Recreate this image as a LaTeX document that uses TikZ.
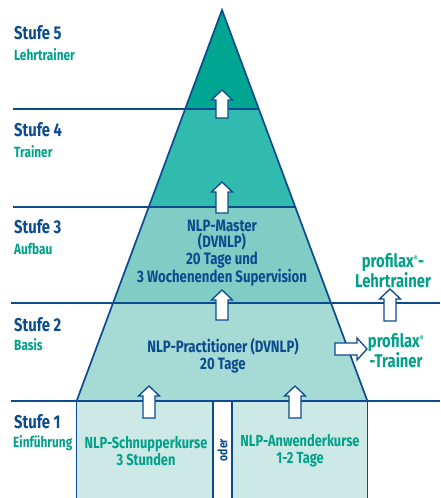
\documentclass[tikz,border=0pt]{standalone}
\usepackage{fontspec}
\setmainfont{Fira Sans}[FakeStretch=0.8,BoldFeatures={FakeStretch=0.8}]
\definecolor{dblue}{HTML}{0B4B8E}
\definecolor{tealtxt}{HTML}{00A08B}
\definecolor{cfive}{HTML}{00A692}
\definecolor{cfour}{HTML}{31BBAE}
\definecolor{cthree}{HTML}{7FCDC5}
\definecolor{ctwo}{HTML}{A6DAD4}
\definecolor{cone}{HTML}{CCE9E5}
\newcommand\blkup[3]{\draw[blk] ({#1-6},#3) -- ({#1-6},{#2+10}) -- ({#1-10.5},{#2+10}) -- (#1,#2) -- ({#1+10.5},{#2+10}) -- ({#1+6},{#2+10}) -- ({#1+6},#3) -- cycle;}
\begin{document}
\begin{tikzpicture}[x=1pt,y=-1pt,
  ln/.style={draw=dblue,line width=1.7pt},
  blk/.style={draw=dblue,fill=white,line width=1.3pt,line join=miter},
  stufe/.style={anchor=west,text=dblue,font=\bfseries\fontsize{18.5}{20}\selectfont,inner sep=0pt},
  sub/.style={anchor=west,text=tealtxt,font=\bfseries\fontsize{14.8}{17}\selectfont,inner sep=0pt},
  mid/.style={align=center,text=dblue,font=\bfseries\fontsize{16.5}{16.6}\selectfont,inner sep=0pt},
  box/.style={align=center,text=tealtxt,font=\bfseries\fontsize{16}{17}\selectfont,inner sep=0pt},
  prof/.style={align=center,text=tealtxt,font=\bfseries\fontsize{18.5}{17.5}\selectfont,inner sep=0pt}]
\useasboundingbox (0,0) rectangle (440,498);
% pyramid corners
\coordinate (apex) at (222,10);
\coordinate (L1) at (185.2,109); \coordinate (R1) at (258.8,109);
\coordinate (L2) at (148.8,207); \coordinate (R2) at (295.2,207);
\coordinate (L3) at (113.1,303); \coordinate (R3) at (330.9,303);
\coordinate (L4) at (76.6,401);  \coordinate (R4) at (367.4,401);
% fills
\fill[cfive] (apex) -- (R1) -- (L1) -- cycle;
\fill[cfour] (L1) -- (R1) -- (R2) -- (L2) -- cycle;
\fill[cthree] (L2) -- (R2) -- (R3) -- (L3) -- cycle;
\fill[ctwo] (L3) -- (R3) -- (R4) -- (L4) -- cycle;
\fill[cone] (L4) rectangle (213,498);
\fill[cone] (232,401) rectangle (367.4,498);
% lines
\draw[ln,line join=miter] (L4) -- (apex) -- (R4);
\draw[ln] (13,109) -- (R1);
\draw[ln] (13,207) -- (R2);
\draw[ln] (11,303) -- (440,303);
\draw[ln] (11,401) -- (440,401);
\draw[ln] (L4) -- (76.6,498);
\draw[ln] (213,401) -- (213,498);
\draw[ln] (232,401) -- (232,498);
\draw[ln] (R4) -- (367.4,498);
% arrows
\blkup{222}{90}{118}
\blkup{222}{182}{213}
\blkup{222}{290}{320}
\blkup{149}{386}{418}
\blkup{295}{386}{418}
\blkup{390}{289}{321}
\draw[blk] (335,343) -- (357,343) -- (357,338) -- (367,349) -- (357,360) -- (357,355) -- (335,355) -- cycle;
% left labels
\node[stufe] (s5) at (14,33) {Stufe 5};
\node[sub] (t5) at (14,55) {Lehrtrainer};
\node[stufe] (s4) at (14,130) {Stufe 4};
\node[sub] (t4) at (14,152) {Trainer};
\node[stufe] (s3) at (14,227) {Stufe 3};
\node[sub] (t3) at (14,249) {Aufbau};
\node[stufe] (s2) at (14,325) {Stufe 2};
\node[sub] (t2) at (14,345) {Basis};
\node[stufe] (s1) at (14,422) {Stufe 1};
\node[sub] (t1) at (13,443) {Einführung};
% center texts
\node[mid] (master) at (222,253) {NLP-Master\\(DVNLP)\\20 Tage und\\3 Wochenenden Supervision};
\node[mid] (pract) at (223,355.5) {NLP-Practitioner (DVNLP)\\20 Tage};
\node[box] (schn) at (146,451) {NLP-Schnupperkurse\\3 Stunden};
\node[box] (anw) at (300,451) {NLP-Anwenderkurse\\1-2 Tage};
\node[rotate=90,text=dblue,font=\bfseries\fontsize{13}{14}\selectfont,inner sep=0pt] (oder) at (222.5,450) {oder};
\node[prof] (plt) at (393,271) {profilax\textsuperscript{\fontsize{7.5}{8}\selectfont ®}-\\Lehrtrainer};
\node[prof] (ptr) at (396,351) {profilax\textsuperscript{\fontsize{7.5}{8}\selectfont ®}\\-Trainer};
\end{tikzpicture}
\end{document}
